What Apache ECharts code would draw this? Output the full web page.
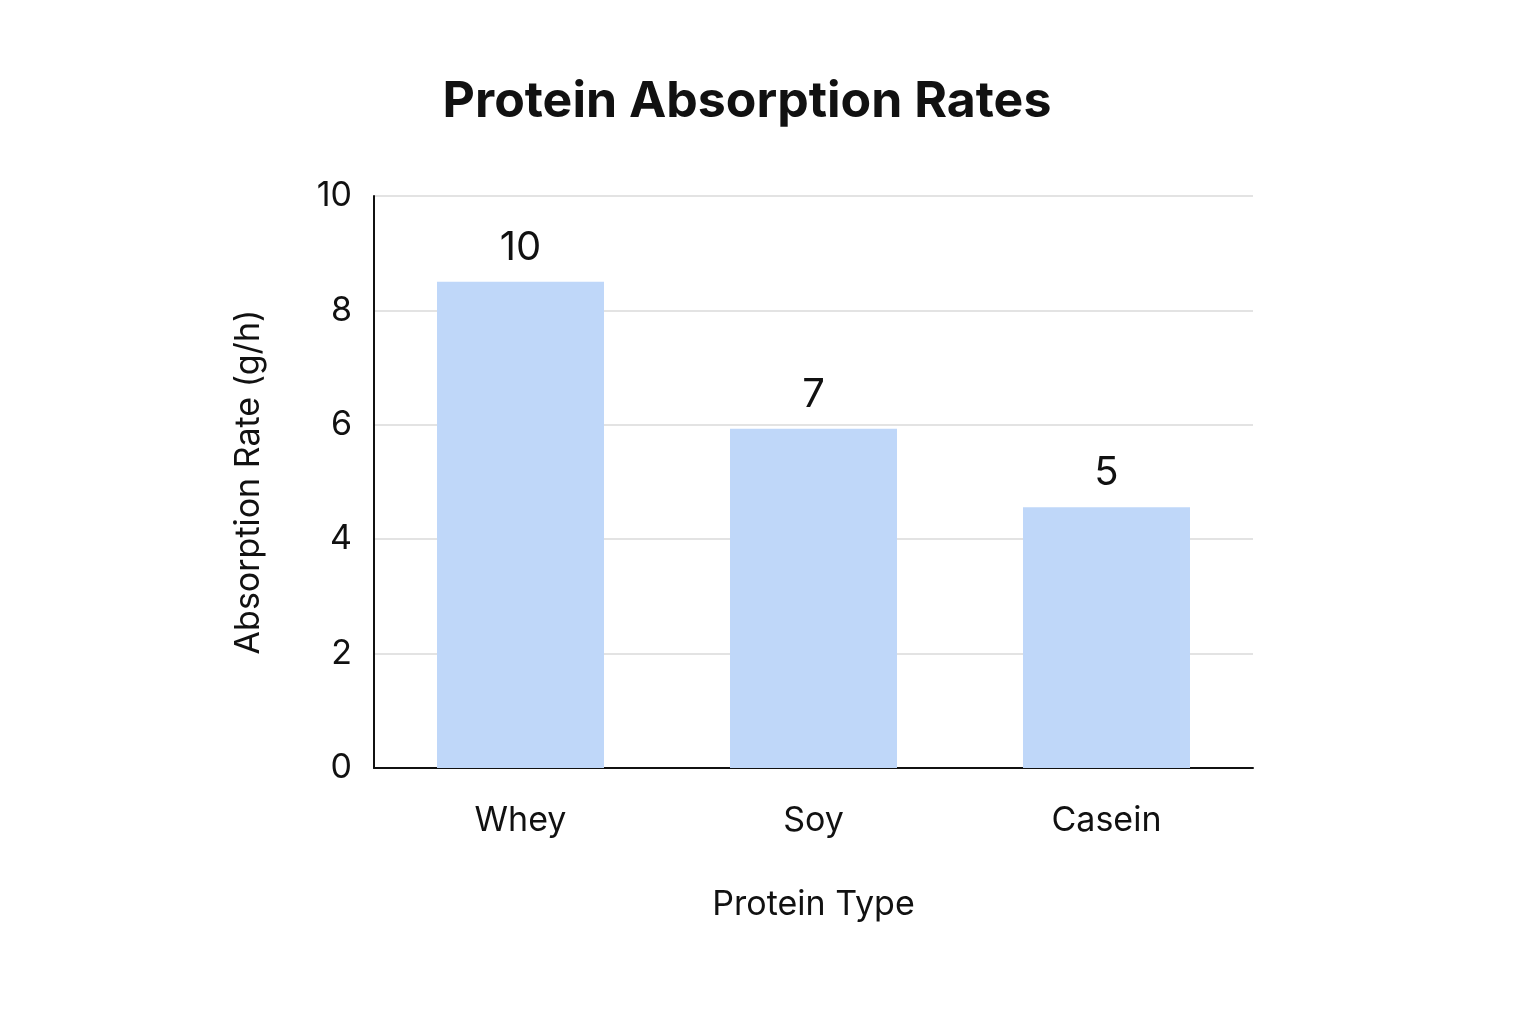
<!DOCTYPE html>
<html>
<head>
<meta charset="utf-8">
<script src="https://cdn.jsdelivr.net/npm/echarts@6/dist/echarts.min.js"></script>
<style>html,body{margin:0;background:#fff}#chart{width:1536px;height:1024px}</style>
</head>
<body>
<div id="chart"></div>
<script>
// data
const categories = ['Whey', 'Soy', 'Casein'];
const barValues = [8.5, 5.93, 4.56];
const barLabels = ['10', '7', '5']; // printed labels differ from bar heights
const yTicks = [0, 2, 4, 6, 8, 10];

const chart = echarts.init(document.getElementById('chart'));
const font = 'Inter, "Noto Sans", sans-serif';

chart.setOption({
  backgroundColor: '#fff',
  title: {
    text: 'Protein Absorption Rates',
    left: 742, top: 72, textAlign: 'center',
    textStyle: {fontFamily: font, fontSize: 50, fontWeight: 'bold', color: '#111'}
  },
  grid: {left: 374, right: 283, top: 196, bottom: 256},
  xAxis: {
    type: 'category',
    data: categories,
    name: 'Protein Type',
    nameLocation: 'middle',
    nameGap: 120,
    nameTextStyle: {fontFamily: font, fontSize: 34, color: '#111'},
    axisLine: {lineStyle: {color: '#111', width: 2}},
    axisTick: {show: false},
    axisLabel: {fontFamily: font, fontSize: 34, color: '#111', margin: 36}
  },
  yAxis: {
    type: 'value',
    min: yTicks[0], max: yTicks[yTicks.length - 1], interval: 2,
    name: 'Absorption Rate (g/h)',
    nameLocation: 'middle',
    nameGap: 108,
    nameTextStyle: {fontFamily: font, fontSize: 34, color: '#111'},
    axisLine: {show: true, lineStyle: {color: '#111', width: 2}},
    axisTick: {show: false},
    axisLabel: {fontFamily: font, fontSize: 34, color: '#111', margin: 22},
    splitLine: {lineStyle: {color: '#e3e3e3', width: 2}}
  },
  series: [{
    type: 'bar',
    data: barValues,
    barWidth: 167,
    itemStyle: {color: '#bfd7f9'},
    label: {
      show: true, position: 'top', distance: 14,
      fontFamily: font, fontSize: 40, color: '#111',
      formatter: p => barLabels[p.dataIndex]
    }
  }]
});
</script>
</body>
</html>
